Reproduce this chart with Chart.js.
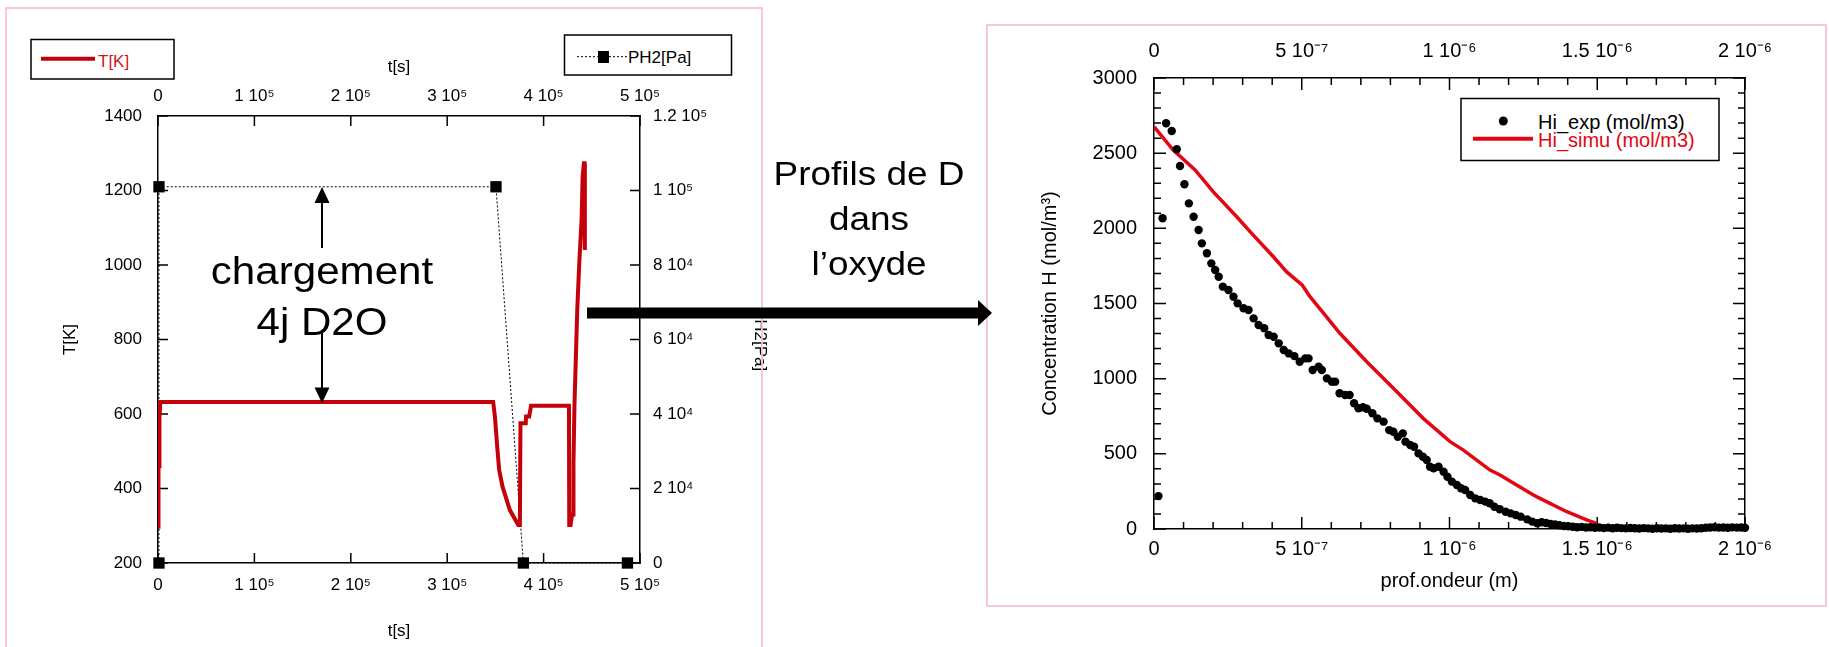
<!DOCTYPE html>
<html lang="fr">
<head>
<meta charset="utf-8">
<title>Profils de D dans l'oxyde</title>
<script src="https://cdn.jsdelivr.net/npm/chart.js@4.4.1/dist/chart.umd.min.js"></script>
<style>
  html, body { margin: 0; padding: 0; background: #fff; }
  #page { position: relative; width: 1829px; height: 647px; overflow: hidden; font-family: "Liberation Sans", Arial, sans-serif; }
  canvas { position: absolute; top: 0; }
  #chartT { left: 0; }
  #chartH { left: 980px; }
  svg { position: absolute; left: 0; top: 0; }
</style>
</head>
<body>
<div id="page">
  <canvas id="chartT" width="770" height="647"></canvas>
  <canvas id="chartH" width="849" height="647"></canvas>
  <svg width="1829" height="647" font-family="Liberation Sans, Arial, sans-serif">
    <!-- cadres roses -->
    <rect x="6" y="8" width="756" height="700" fill="none" stroke="#f6c4cf" stroke-width="1.8"/>
    <rect x="987" y="25" width="839" height="581" fill="none" stroke="#f6c4cf" stroke-width="1.8"/>

    <!-- légende T[K] -->
    <rect x="31" y="39.5" width="143" height="39.5" fill="#fff" stroke="#000" stroke-width="1.5"/>
    <line x1="41" y1="58.7" x2="95" y2="58.7" stroke="#c4000a" stroke-width="4"/>
    <text x="98" y="67.3" font-size="17" fill="#d0141e">T[K]</text>

    <!-- légende PH2[Pa] -->
    <rect x="564.5" y="35" width="167" height="40" fill="#fff" stroke="#000" stroke-width="1.5"/>
    <line x1="577" y1="56.7" x2="627" y2="56.7" stroke="#000" stroke-width="1" stroke-dasharray="2,2"/>
    <rect x="598" y="51" width="11" height="12" fill="#000"/>
    <text x="628" y="63.3" font-size="17" fill="#000">PH2[Pa]</text>

    <!-- légende Hi -->
    <rect x="1461" y="98.5" width="258" height="62" fill="#fff" stroke="#000" stroke-width="1.5"/>
    <circle cx="1503.3" cy="121" r="4.5" fill="#000"/>
    <text x="1538" y="129.3" font-size="20" fill="#000">Hi_exp (mol/m3)</text>
    <line x1="1473" y1="138.7" x2="1533" y2="138.7" stroke="#e30613" stroke-width="4"/>
    <text x="1538" y="146.7" font-size="20" fill="#e30613">Hi_simu (mol/m3)</text>

    <!-- annotation chargement -->
    <line x1="322" y1="200" x2="322" y2="248" stroke="#000" stroke-width="2"/>
    <polygon points="322,187 314.5,203 329.5,203" fill="#000"/>
    <line x1="322" y1="333" x2="322" y2="390" stroke="#000" stroke-width="2"/>
    <polygon points="322,403 314.5,387.5 329.5,387.5" fill="#000"/>
    <g transform="translate(322,0) scale(1.08,1) translate(-322,0)">
      <text x="322" y="284" font-size="39" text-anchor="middle" fill="#000">chargement</text>
      <text x="322" y="335" font-size="39" text-anchor="middle" fill="#000">4j D2O</text>
    </g>

    <!-- flèche vers les profils -->
    <rect x="587" y="307.5" width="393" height="11" fill="#000"/>
    <polygon points="978,300 992,313 978,326" fill="#000"/>
    <g transform="translate(869,0) scale(1.12,1) translate(-869,0)">
      <text x="869" y="185" font-size="33" text-anchor="middle" fill="#000">Profils de D</text>
      <text x="869" y="230" font-size="33" text-anchor="middle" fill="#000">dans</text>
      <text x="869" y="275" font-size="33" text-anchor="middle" fill="#000">l’oxyde</text>
    </g>
  </svg>
</div>

<script>
// ==================== DONNÉES ====================
const tLabels = ['0', '1 10⁵', '2 10⁵', '3 10⁵', '4 10⁵', '5 10⁵'];
const pLabels = ['0', '2 10⁴', '4 10⁴', '6 10⁴', '8 10⁴', '1 10⁵', '1.2 10⁵'];
const depthLabels = ['0', '5 10⁻⁷', '1 10⁻⁶', '1.5 10⁻⁶', '2 10⁻⁶'];

// T[K] en fonction de t[s]
const tTime = [0, 500, 1200, 1500, 2500, 347700, 349500, 351900, 353900, 357400, 365000, 373700,
  375400, 376000, 381500, 381800, 385000, 387000, 426300, 426600, 428000, 429500, 430500, 431000,
  432000, 433500, 434900, 437000, 439400, 440500, 441800, 442500, 442800];
const tTemp = [297, 460, 460, 590, 632, 632, 593, 512, 450, 405, 342, 302,
  302, 575, 575, 593, 593, 622, 622, 302, 302, 330, 330, 470,
  622, 754, 879, 1005, 1121, 1237, 1273, 1273, 1040];

// PH2[Pa] en fonction de t[s]
const pTime = [1000, 1000, 350600, 379000, 487000];
const pPress = [0, 101000, 101000, 0, 0];

// Hi_exp : profondeur (nm) / concentration (mol/m3)
const expDepthNm = [15, 29, 41, 60, 77, 88, 103, 118, 134, 151, 162, 179, 194, 207, 219, 233, 252, 269,
  283, 303, 320, 337, 354, 373, 388, 405, 422, 439, 456, 475, 493, 512, 523, 537, 557, 568, 585, 602,
  613, 628, 647, 662, 677, 692, 707, 720, 739, 756, 777, 796, 810, 825, 842, 851, 867, 880, 895, 910,
  923, 934, 946, 963, 980, 993, 1008, 1025, 1039, 1053, 1070, 1087, 1104, 1121, 1136, 1152, 1170, 1190,
  1207, 1224, 1241, 1263, 1280, 1297, 1312, 1327, 1342, 1357, 1372, 1387, 1402, 1417, 1432, 1447, 1462,
  1477, 1492, 1507, 1522, 1537, 1552, 1567, 1582, 1597, 1612, 1627, 1642, 1657, 1672, 1687, 1702, 1717,
  1732, 1747, 1762, 1777, 1792, 1807, 1822, 1837, 1852, 1867, 1882, 1897, 1912, 1927, 1942, 1957, 1972,
  1987, 2000];
const expConc = [219, 2067, 2699, 2647, 2526, 2415, 2293, 2166, 2077, 1989, 1900, 1834, 1767, 1723, 1678,
  1612, 1590, 1545, 1501, 1468, 1457, 1401, 1357, 1335, 1290, 1279, 1235, 1191, 1168, 1150, 1113, 1135,
  1135, 1058, 1080, 1058, 1002, 980, 980, 903, 891, 891, 836, 803, 810, 800, 770, 736, 714, 658, 647, 614,
  636, 581, 559, 547, 503, 481, 459, 414, 404, 414, 381, 348, 315, 293, 271, 259, 226, 204, 193, 182, 171,
  148, 131, 115, 104, 93, 82, 64, 49, 38, 45, 40, 33, 30, 25, 20, 18, 15, 12, 14, 10, 12, 8, 10, 6, 9, 5,
  8, 6, 4, 7, 5, 3, 6, 4, 2, 5, 3, 4, 2, 5, 3, 4, 2, 4, 3, 5, 8, 10, 12, 9, 10, 8, 11, 9, 10, 8];

// Hi_simu : profondeur (nm) / concentration (mol/m3)
const simDepthNm = [0, 65, 139, 200, 280, 325, 404, 449, 502, 528, 568, 629, 720, 810, 911, 1002, 1047,
  1137, 1171, 1227, 1284, 1306, 1397, 1464, 1498];
const simConc = [2676, 2521, 2388, 2244, 2077, 1978, 1811, 1710, 1622, 1545, 1450, 1302, 1113, 936, 736,
  581, 525, 392, 359, 293, 226, 204, 115, 60, 38];

// ==================== OUTILS ====================
const FONT = '"Liberation Sans", Arial, sans-serif';
const pts = (xs, ys, k = 1) => xs.map((x, i) => ({ x: x * k, y: ys[i] }));

// graduations tournées vers l'intérieur, comme dans KaleidaGraph
const innerTicks = {
    id: 'innerTicks',
    beforeDatasetsDraw(chart, args, o) {
        const { ctx, chartArea: a } = chart;
        ctx.save();
        ctx.strokeStyle = '#000';
        ctx.lineWidth = 1.5;
        ctx.beginPath();
        Object.values(chart.scales).forEach(s => {
            const step = o.major[s.id];
            s.ticks.forEach(t => {
                const k = t.value / step;
                const len = Math.abs(k - Math.round(k)) < 1e-6 ? o.majorLen : o.minorLen;
                const p = s.getPixelForValue(t.value);
                if (s.position === 'bottom') { ctx.moveTo(p, a.bottom); ctx.lineTo(p, a.bottom - len); }
                if (s.position === 'top') { ctx.moveTo(p, a.top); ctx.lineTo(p, a.top + len); }
                if (s.position === 'left') { ctx.moveTo(a.left, p); ctx.lineTo(a.left + len, p); }
                if (s.position === 'right') { ctx.moveTo(a.right, p); ctx.lineTo(a.right - len, p); }
            });
        });
        ctx.stroke();
        ctx.restore();
    }
};

function axis(position, min, max, step, size, font, labelFn, pad, title) {
    const horiz = position === 'top' || position === 'bottom';
    return {
        type: 'linear', position, min, max,
        ticks: {
            stepSize: step, maxTicksLimit: 100, autoSkip: false, maxRotation: 0, minRotation: 0,
            display: !!labelFn, callback: labelFn || (() => ''), color: '#000', font, padding: pad
        },
        grid: { display: false, drawTicks: false },
        border: { display: true, color: '#000', width: 1.5 },
        title: title || { display: false },
        afterFit: s => { if (horiz) s.height = size; else s.width = size; }
    };
}

// ==================== T[K] / PH2[Pa] ====================
const fontL = { family: FONT, size: 17 };
const titleL = (text, padding) => ({ display: true, text, color: '#000', font: fontL, padding });

new Chart(document.getElementById('chartT'), {
    type: 'scatter',
    data: {
        datasets: [
            {
                label: 'T[K]', data: pts(tTime, tTemp), showLine: true, xAxisID: 'x', yAxisID: 'y',
                borderColor: '#c4000a', borderWidth: 4, pointRadius: 0
            },
            {
                label: 'PH2[Pa]', data: pts(pTime, pPress), showLine: true, xAxisID: 'x', yAxisID: 'y2',
                borderColor: '#000', borderWidth: 1, borderDash: [2, 2],
                pointStyle: 'rect', pointRadius: 8, pointBackgroundColor: '#000', pointBorderWidth: 0,
                clip: false
            }
        ]
    },
    options: {
        responsive: false, animation: false,
        layout: { padding: 0 },
        plugins: {
            legend: { display: false }, tooltip: { enabled: false },
            innerTicks: { major: { x: 1e5, x2: 1e5, y: 200, y2: 2e4 }, majorLen: 10, minorLen: 10 }
        },
        scales: {
            x: axis('bottom', 0, 5e5, 1e5, 84, fontL, v => tLabels[Math.round(v / 1e5)], 12,
                titleL('t[s]', { top: 0, bottom: 5.8 })),
            x2: axis('top', 0, 5e5, 1e5, 116, fontL, v => tLabels[Math.round(v / 1e5)], 9,
                titleL('t[s]', { top: 56.8, bottom: 0 })),
            y: axis('left', 200, 1400, 200, 158, fontL, v => String(v), 16,
                titleL('T[K]', { top: 59.8, bottom: 0 })),
            y2: axis('right', 0, 1.2e5, 2e4, 130, fontL, v => pLabels[Math.round(v / 2e4)], 13,
                titleL('PH2[Pa]', { top: 0, bottom: 35.3 }))
        }
    },
    plugins: [innerTicks]
});

// ==================== Hi_exp / Hi_simu ====================
const fontR = { family: FONT, size: 20 };
const titleR = (text, padding) => ({ display: true, text, color: '#000', font: fontR, padding });
const depthFn = v => {
    const k = v / 5e-7;
    return Math.abs(k - Math.round(k)) < 1e-6 ? depthLabels[Math.round(k)] : '';
};

new Chart(document.getElementById('chartH'), {
    type: 'scatter',
    data: {
        datasets: [
            {
                label: 'Hi_exp (mol/m3)', data: pts(expDepthNm, expConc, 1e-9),
                pointRadius: 4.2, pointBackgroundColor: '#000', pointBorderWidth: 0, clip: false
            },
            {
                label: 'Hi_simu (mol/m3)', data: pts(simDepthNm, simConc, 1e-9), showLine: true,
                borderColor: '#e30613', borderWidth: 3.5, pointRadius: 0
            }
        ]
    },
    options: {
        responsive: false, animation: false,
        layout: { padding: 0 },
        plugins: {
            legend: { display: false }, tooltip: { enabled: false },
            innerTicks: { major: { x: 5e-7, x2: 5e-7, y: 500, y2: 500 }, majorLen: 12, minorLen: 7 }
        },
        scales: {
            x: axis('bottom', 0, 2e-6, 1e-7, 118, fontR, depthFn, 8,
                titleR('prof.ondeur (m)', { top: 0, bottom: 54 })),
            x2: axis('top', 0, 2e-6, 1e-7, 78, fontR, depthFn, 14.5),
            y: axis('left', 0, 3000, 100, 174, fontR, v => (v % 500 === 0 ? String(v) : ''), 17,
                titleR('Concentration H (mol/m³)', { top: 58, bottom: 0 })),
            y2: axis('right', 0, 3000, 100, 84, fontR, null, 0)
        }
    },
    plugins: [innerTicks]
});
</script>
</body>
</html>
